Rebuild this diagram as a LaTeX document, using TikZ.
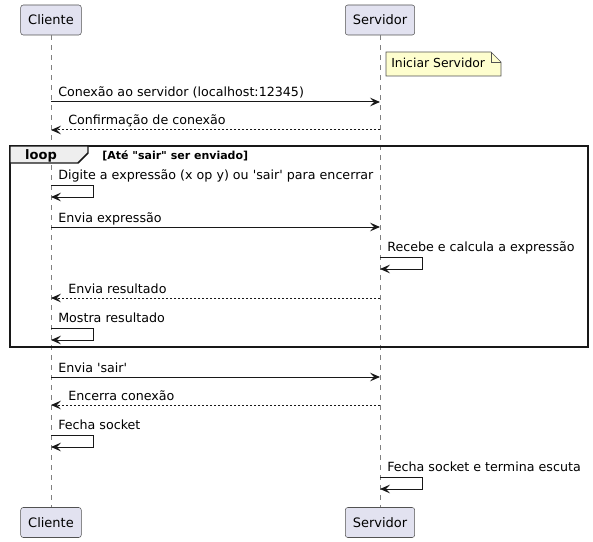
\documentclass[tikz,border=0pt]{standalone}
\usepackage{fontspec}
\setmainfont{DejaVu Sans}[Ligatures=TeXOff]
\usetikzlibrary{arrows.meta}

\definecolor{partfill}{HTML}{E2E2F0}
\definecolor{notefill}{HTML}{FEFECE}
\definecolor{tabfill}{HTML}{EEEEEE}
\definecolor{umlline}{HTML}{181818}

\tikzset{
  part/.style={draw=umlline!75, fill=partfill, rounded corners=1.9pt, line width=0.4pt,
    minimum height=22.5pt, inner xsep=5.6pt, font=\fontsize{9.75}{11}\selectfont},
  lifeline/.style={draw=gray, dash pattern=on 3.75pt off 3.75pt, line width=0.4pt},
  msg/.style={draw=umlline, line width=0.75pt, -{Stealth[length=7.5pt,width=6.5pt,inset=3pt]}},
  reply/.style={msg, dash pattern=on 1.5pt off 1.5pt},
  lbl/.style={anchor=base west, inner sep=0pt, font=\fontsize{9.5}{11}\selectfont},
}

\begin{document}
\begin{tikzpicture}[x=0.75pt,y=-0.75pt]
  \useasboundingbox (0,0) rectangle (593,542);

  %participants
  \node[part] (cliTop) at (51,20) {Cliente};
  \node[part] (cliBot) at (51,522.5) {Cliente};
  \node[part] (srvTop) at (380,20) {Servidor};
  \node[part] (srvBot) at (380,522.5) {Servidor};
  \draw[lifeline] (cliTop) -- (cliBot);
  \draw[lifeline] (srvTop) -- (srvBot);
  \coordinate (cli) at (cliTop.south);
  \coordinate (srv) at (srvTop.south);

  %rows of the messages
  \foreach \y/\n in {102/m1,130/m2,185/s1,227/m3,257/s2,298/m4,328/s3,377/m5,405/m6,435/s4,477/s5}
    \coordinate (\n) at (0,\y);

  %note
  \filldraw[fill=notefill, draw=umlline!75, line width=0.4pt] (386,52) -- (491,52) -- (501,62) -- (501,76) -- (386,76) -- cycle;
  \draw[draw=umlline!75, line width=0.4pt] (491,52) -- (491,62) -- (501,62);
  \node[lbl, font=\fontsize{9.3}{11}\selectfont] (note) at (391,68) {Iniciar Servidor};

  %loop frame
  \draw[line width=1.1pt, draw=umlline] (10,146) rectangle (588,347);
  \filldraw[fill=tabfill, draw=umlline, line width=1.1pt] (10,146) -- (88,146) -- (88,153) -- (78,163) -- (10,163) -- cycle;
  \node[anchor=base, inner sep=0pt, font=\bfseries\fontsize{9.75}{11}\selectfont] (looptag) at (41,159.5) {loop};
  \node[anchor=base west, inner sep=0pt, font=\bfseries\fontsize{8.25}{10}\selectfont] (loopcond) at (102,159) {[Até "sair" ser enviado]};

  %messages
  \draw[msg] (cli |- m1) -- (srv |- m1);
  \node[lbl] (t1) at (58,97) {Conexão ao servidor (localhost:12345)};
  \draw[reply] (srv |- m2) -- (cli |- m2);
  \node[lbl] (t2) at (68,125) {Confirmação de conexão};

  \draw[msg] (cli |- s1) -- ++(42,0) -- ++(0,12) -- ++(-42,0);
  \node[lbl] (t3) at (58,179) {Digite a expressão (x op y) ou 'sair' para encerrar};
  \draw[msg] (cli |- m3) -- (srv |- m3);
  \node[lbl] (t4) at (58,222) {Envia expressão};
  \draw[msg] (srv |- s2) -- ++(42,0) -- ++(0,12) -- ++(-42,0);
  \node[lbl] (t5) at (387,251) {Recebe e calcula a expressão};
  \draw[reply] (srv |- m4) -- (cli |- m4);
  \node[lbl] (t6) at (68,293) {Envia resultado};
  \draw[msg] (cli |- s3) -- ++(42,0) -- ++(0,12) -- ++(-42,0);
  \node[lbl] (t7) at (58,322) {Mostra resultado};

  \draw[msg] (cli |- m5) -- (srv |- m5);
  \node[lbl] (t8) at (58,372) {Envia 'sair'};
  \draw[reply] (srv |- m6) -- (cli |- m6);
  \node[lbl] (t9) at (68,400) {Encerra conexão};
  \draw[msg] (cli |- s4) -- ++(42,0) -- ++(0,12) -- ++(-42,0);
  \node[lbl] (t10) at (58,429) {Fecha socket};
  \draw[msg] (srv |- s5) -- ++(42,0) -- ++(0,12) -- ++(-42,0);
  \node[lbl] (t11) at (387,471) {Fecha socket e termina escuta};
\end{tikzpicture}
\end{document}
